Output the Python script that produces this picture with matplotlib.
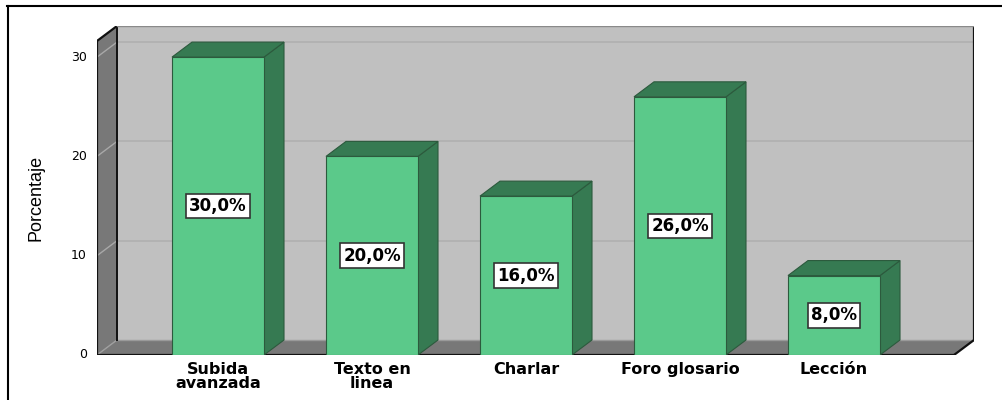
import matplotlib
matplotlib.use("Agg")
import matplotlib.pyplot as plt
from matplotlib.patches import Polygon, Rectangle
from matplotlib.lines import Line2D

categories = ["Subida\navanzada", "Texto en\nlinea", "Charlar", "Foro glosario", "Lección"]
values = [30.0, 20.0, 16.0, 26.0, 8.0]
labels = ["30,0%", "20,0%", "16,0%", "26,0%", "8,0%"]
yticks = [0, 10, 20, 30]
ylabel = "Porcentaje"

W, H = 1002, 400
fig = plt.figure(figsize=(W / 100, H / 100), dpi=100)

# pixel geometry
px_left, px_right = 97, 974      # left of side wall front edge / right of back wall
px_y0, px_top = 355, 26          # baseline / top of back wall
ppu = 9.93                        # pixels per percent
pcat = 154.0                      # pixels between categories
first_center = 218.0
depth_px_x, depth_px_y = 20, 15

x0 = (px_left - first_center) / pcat
x1 = (px_right - first_center) / pcat
ytop = (px_y0 - px_top) / ppu
dx = depth_px_x / pcat
dy = depth_px_y / ppu
ymax = ytop - dy
bw = 92 / pcat

ax = fig.add_axes([px_left / W, 1 - px_y0 / H, (px_right - px_left) / W, (px_y0 - px_top) / H])
ax.set_xlim(x0, x1)
ax.set_ylim(0, ytop)
ax.axis("off")

wall_gray = "#c0c0c0"
side_gray = "#787878"

# back wall
ax.add_patch(Rectangle((x0 + dx, dy), x1 - x0 - dx, ymax, facecolor=wall_gray,
                       edgecolor="none", zorder=1))
for t in yticks[1:]:
    ax.add_line(Line2D([x0 + dx, x1], [t + dy, t + dy], color="#b0b0b0", lw=1.2, zorder=1.5))
# side wall
ax.add_patch(Polygon([(x0, 0), (x0 + dx, dy), (x0 + dx, ytop), (x0, ymax)],
                     closed=True, facecolor=side_gray, edgecolor="none", zorder=2))
for t in yticks[1:]:
    ax.add_line(Line2D([x0, x0 + dx], [t, t + dy], color="#a8a8a8", lw=1.0, zorder=2.5))
# floor
ax.add_patch(Polygon([(x0, 0), (x1 - dx, 0), (x1, dy), (x0 + dx, dy)],
                     closed=True, facecolor=side_gray, edgecolor="none", zorder=2))
ax.add_line(Line2D([x0, x0 + dx], [0, dy], color="#a0a0a0", lw=1.0, zorder=2.5))
ax.add_line(Line2D([x0 + dx, x1], [dy, dy], color="#9a9a9a", lw=1.0, zorder=2.5))

# outlines
k = dict(color="#111111", lw=1.6, zorder=3, solid_capstyle="projecting")
ax.add_line(Line2D([x0, x0], [0, ymax], **k))
ax.add_line(Line2D([x0, x0 + dx], [ymax, ytop], **k))
ax.add_line(Line2D([x0 + dx, x0 + dx], [dy, ytop], color="#111111", lw=1.4, zorder=3))
ax.add_line(Line2D([x0, x1 - dx], [0, 0], **k))
ax.add_line(Line2D([x1 - dx, x1], [0, dy], **k))
ax.add_line(Line2D([x1, x1], [dy, ytop], **k))
ax.add_line(Line2D([x0 + dx, x1], [ytop, ytop], color="#8a8a8a", lw=1.0, zorder=3))

front = "#5bc98a"
dark = "#367a52"
edge = "#2c5a3d"
for i, v in enumerate(values):
    l, r = i - bw / 2, i + bw / 2
    ax.add_patch(Polygon([(r, 0), (r + dx, dy), (r + dx, v + dy), (r, v)], closed=True,
                         facecolor=dark, edgecolor=edge, lw=0.8, zorder=4))
    ax.add_patch(Polygon([(l, v), (l + dx, v + dy), (r + dx, v + dy), (r, v)], closed=True,
                         facecolor=dark, edgecolor=edge, lw=0.8, zorder=4))
    ax.add_patch(Rectangle((l, 0), bw, v, facecolor=front, edgecolor=edge, lw=0.8, zorder=5))
    ax.text(i, v / 2, labels[i], ha="center", va="center", fontsize=12, fontweight="bold",
            family="DejaVu Sans", zorder=6,
            bbox=dict(boxstyle="square,pad=0.2", facecolor="white", edgecolor="#333333", lw=1.2))
    ax.text(i, -0.7, categories[i], ha="center", va="top", fontsize=11.5, fontweight="bold",
            family="DejaVu Sans", linespacing=0.92, clip_on=False)

for t in yticks:
    ax.text(x0 - 10 / pcat, t, str(t), ha="right", va="center", fontsize=9,
            family="DejaVu Sans", clip_on=False)

fig.text(36 / W, 1 - 198 / H, ylabel, rotation=90, ha="center", va="center",
         fontsize=13, family=["Liberation Sans Narrow", "Liberation Sans"])

# outer frame (top and left only visible)
fig.add_artist(Line2D([7 / W, 1.0], [1 - 6 / H, 1 - 6 / H], color="black", lw=1.5,
                      transform=fig.transFigure))
fig.add_artist(Line2D([7.5 / W, 7.5 / W], [0, 1 - 6 / H], color="black", lw=1.5,
                      transform=fig.transFigure))

fig.savefig("out.png", dpi=100)
